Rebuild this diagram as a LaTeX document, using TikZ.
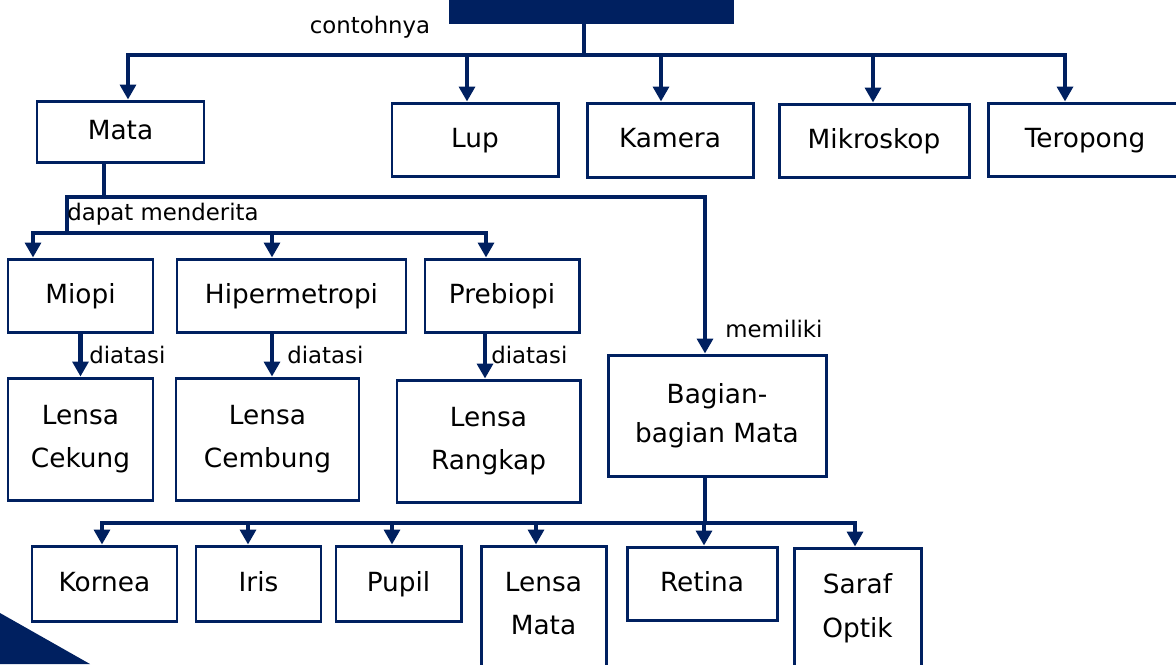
\documentclass[tikz,border=0pt]{standalone}
\usepackage{fontspec}
\setmainfont{DejaVu Sans}
\usetikzlibrary{arrows.meta}
\definecolor{biru}{HTML}{002060}
\newlength{\px}
\setlength{\px}{0.02cm}
\tikzset{
    >={Triangle[width=9pt,length=8.5pt]},
    uk/.style 2 args={minimum width=#1*\px,minimum height=#2*\px},
    peta/.style={
        kotak/.append style={draw=biru,line width=1.7pt,align=center,inner sep=0pt,font=\fontsize{15}{24.5}\selectfont},
        satu/.append style={text height=11pt,text depth=2pt},
        ket/.append style={inner sep=0pt,font=\fontsize{13}{15}\selectfont},
        garis/.append style={draw=biru,line width=2.4pt,line cap=rect},
        panah/.append style={draw=biru,line width=2.4pt,line cap=rect,->}
    }
}

\begin{document}
\begin{tikzpicture}[peta,x=0.02cm,y=-0.02cm]
    \useasboundingbox (0,0) rectangle (1176,664);
    \clip (0,0) rectangle (1176,664);
    \fill[biru] (0,613) -- (90,664) -- (0,664) -- cycle;

    \node[kotak,fill=biru,uk={282}{60}] (judul) at (591,-8) {};
    \node[ket,anchor=base] (contoh) at (370,33) {contohnya};
    \node[kotak,satu,uk={167}{61}] (mata) at (120.5,131.5) {Mata};
    \node[kotak,satu,uk={166}{73}] (lup) at (475,139.5) {Lup};
    \node[kotak,satu,uk={166}{74}] (kamera) at (670,140) {Kamera};
    \node[kotak,satu,uk={190}{73}] (mikroskop) at (874,140.5) {Mikroskop};
    \node[kotak,satu,uk={194}{73}] (teropong) at (1085,139.5) {Teropong};
    \coordinate (cab0) at (584,55);
    \draw[garis] (judul.south -| cab0) -- (cab0);
    \draw[panah] (cab0) -| ([xshift=7.5*\px]mata.north);
    \draw[panah] (cab0) -| ([xshift=-8*\px]lup.north);
    \draw[panah] (cab0) -| ([xshift=-9*\px]kamera.north);
    \draw[panah] (cab0) -| ([xshift=-1*\px]mikroskop.north);
    \draw[panah] (cab0) -| ([xshift=-20*\px]teropong.north);

    \node[kotak,satu,uk={145}{73}] (miopi) at (80.5,295.5) {Miopi};
    \node[kotak,satu,uk={229}{73}] (hiper) at (291.5,295.5) {Hipermetropi};
    \node[kotak,satu,uk={154}{73}] (prebiopi) at (502,295.5) {Prebiopi};
    \node[kotak,uk={145}{122}] (cekung) at (80.5,439) {Lensa\\Cekung};
    \node[kotak,uk={183}{122}] (cembung) at (267.5,439) {Lensa\\Cembung};
    \node[kotak,uk={183}{122}] (rangkap) at (488.5,441) {Lensa\\Rangkap};
    \node[kotak,uk={218}{121},font=\fontsize{15}{22.5}\selectfont] (bagian) at (717,415.5) {Bagian-\\bagian Mata};
    \coordinate (cab1) at (67,197);
    \coordinate (cab2) at (67,233);
    \draw[garis] ([xshift=-16.5*\px]mata.south) |- (cab1);
    \draw[panah] (cab1) -| ([xshift=-12*\px]bagian.north);
    \draw[garis] (cab1) -- (cab2);
    \node[ket,anchor=base west] (menderita) at (67,220) {dapat menderita};
    \node[ket,anchor=base west] (memiliki) at (725,337) {memiliki};
    \draw[panah] (cab2) -| ([xshift=-47.5*\px]miopi.north);
    \draw[panah] (cab2) -| ([xshift=-19.5*\px]hiper.north);
    \draw[panah] (cab2) -| ([xshift=-16*\px]prebiopi.north);
    \draw[panah] (miopi.south) -- (cekung.north);
    \draw[panah] ([xshift=-19.5*\px]hiper.south) -- ([xshift=-19.5*\px]hiper.south |- cembung.north);
    \draw[panah] ([xshift=-17*\px]prebiopi.south) -- ([xshift=-17*\px]prebiopi.south |- rangkap.north);
    \node[ket,anchor=base west] (diatasi1) at (89,363) {diatasi};
    \node[ket,anchor=base west] (diatasi2) at (287,363) {diatasi};
    \node[ket,anchor=base west] (diatasi3) at (491,363) {diatasi};

    \node[kotak,satu,uk={145}{75}] (kornea) at (104.5,583.5) {Kornea};
    \node[kotak,satu,uk={125}{75}] (iris) at (258.5,583.5) {Iris};
    \node[kotak,satu,uk={125}{75}] (pupil) at (398.5,583.5) {Pupil};
    \node[kotak,uk={125}{158}] (lensamata) at (543.5,625) {Lensa\\Mata\\~};
    \node[kotak,satu,uk={150}{73}] (retina) at (702,583.5) {Retina};
    \node[kotak,uk={127}{158}] (saraf) at (857.5,627) {Saraf\\Optik\\~};
    \coordinate (cab3) at (705,523);
    \draw[garis] ([xshift=-12*\px]bagian.south) -- (cab3);
    \draw[panah] (cab3) -| ([xshift=-2.5*\px]kornea.north);
    \draw[panah] (cab3) -| ([xshift=-10.5*\px]iris.north);
    \draw[panah] (cab3) -| ([xshift=-6.5*\px]pupil.north);
    \draw[panah] (cab3) -| ([xshift=-7.5*\px]lensamata.north);
    \draw[panah] (cab3) -| ([xshift=2*\px]retina.north);
    \draw[panah] (cab3) -| ([xshift=-2.5*\px]saraf.north);
\end{tikzpicture}
\end{document}
